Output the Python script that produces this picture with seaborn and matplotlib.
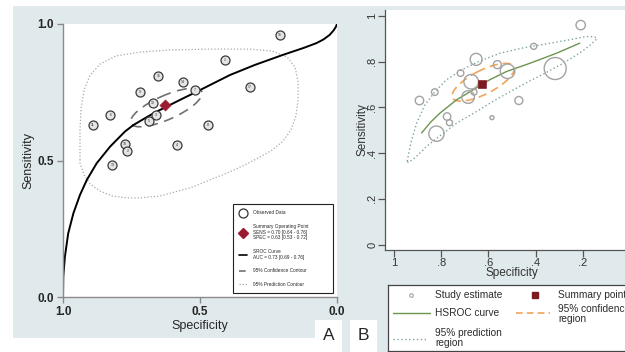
import matplotlib

matplotlib.use("Agg")
import matplotlib.pyplot as plt
import pandas as pd
import seaborn as sns
from matplotlib.lines import Line2D
from matplotlib.patches import Ellipse, Rectangle

# study level estimates
study_ids = [15, 1, 17, 16, 14, 7, 9, 12, 6, 3, 5, 11, 8, 10, 4, 2, 13]
specificity = [0.209, 0.408, 0.317, 0.652, 0.562, 0.519, 0.718, 0.673, 0.827,
               0.661, 0.686, 0.892, 0.471, 0.775, 0.585, 0.765, 0.820]
sensitivity = [0.960, 0.867, 0.770, 0.810, 0.787, 0.758, 0.750, 0.712, 0.667,
               0.667, 0.645, 0.630, 0.630, 0.560, 0.555, 0.533, 0.485]
study_weight = [22, 9, 121, 36, 16, 53, 11, 53, 11, 9, 40, 18, 16, 14, 4, 9, 59]

summary_spec = 0.629
summary_sens = 0.703

# panel A: SROC curve and contours
sroc_spec = [1.000, 0.999, 0.993, 0.981, 0.962, 0.938, 0.913, 0.877, 0.828, 0.774,
             0.743, 0.670, 0.573, 0.500, 0.391, 0.300, 0.197, 0.120, 0.075, 0.050,
             0.027, 0.012, 0.004, 0.000]
sroc_sens = [0.000, 0.074, 0.148, 0.233, 0.307, 0.374, 0.429, 0.490, 0.551, 0.606,
             0.630, 0.673, 0.722, 0.758, 0.813, 0.850, 0.887, 0.913, 0.930, 0.943,
             0.960, 0.977, 0.990, 1.000]
pred_a_spec = [0.938, 0.938, 0.934, 0.923, 0.901, 0.865, 0.807, 0.719, 0.609, 0.464,
               0.318, 0.237, 0.182, 0.153, 0.142, 0.142, 0.150, 0.168, 0.197, 0.237,
               0.281, 0.336, 0.401, 0.464, 0.526, 0.591, 0.646, 0.719, 0.766, 0.821,
               0.865, 0.901, 0.923, 0.938, 0.938]
pred_a_sens = [0.502, 0.612, 0.692, 0.758, 0.813, 0.853, 0.883, 0.897, 0.905, 0.908,
               0.908, 0.901, 0.879, 0.842, 0.788, 0.722, 0.663, 0.612, 0.571, 0.538,
               0.513, 0.484, 0.454, 0.429, 0.403, 0.385, 0.370, 0.363, 0.363, 0.370,
               0.388, 0.414, 0.447, 0.491, 0.502]
conf_a = dict(center=(0.623, 0.694), width=0.284, height=0.088, angle=155.9)

# panel B: HSROC curve and regions
hsroc_spec = [0.883, 0.845, 0.805, 0.735, 0.664, 0.594, 0.523, 0.424, 0.311, 0.213]
hsroc_sens = [0.488, 0.535, 0.575, 0.633, 0.677, 0.721, 0.757, 0.793, 0.837, 0.881]
pred_b_spec = [0.944, 0.929, 0.904, 0.869, 0.826, 0.777, 0.713, 0.643, 0.551, 0.453,
               0.354, 0.255, 0.185, 0.150, 0.140,
               0.163, 0.199, 0.241, 0.283, 0.326, 0.368, 0.424, 0.481, 0.565, 0.650,
               0.735, 0.805, 0.862, 0.911, 0.939, 0.944]
pred_b_sens = [0.364, 0.444, 0.531, 0.611, 0.669, 0.721, 0.764, 0.800, 0.837, 0.860,
               0.878, 0.896, 0.910, 0.909, 0.900,
               0.878, 0.848, 0.820, 0.793, 0.769, 0.745, 0.716, 0.684, 0.636, 0.582,
               0.531, 0.476, 0.429, 0.379, 0.359, 0.364]
conf_b = dict(center=(0.622, 0.710), width=0.294, height=0.103, angle=152)

studies = pd.DataFrame({"id": study_ids, "spec": specificity, "sens": sensitivity,
                        "weight": study_weight})

sns.set_style("ticks")
plt.rcParams["font.family"] = ["Liberation Sans", "DejaVu Sans"]

W, H = 625, 352
fig = plt.figure(figsize=(W / 100, H / 100), dpi=100)


def px_axes(x0, y0, x1, y1):
    return fig.add_axes([x0 / W, 1 - y1 / H, (x1 - x0) / W, (y1 - y0) / H])


def px_rect(x0, y0, x1, y1, color, z):
    fig.patches.append(Rectangle((x0 / W, 1 - y1 / H), (x1 - x0) / W, (y1 - y0) / H,
                                 transform=fig.transFigure, facecolor=color,
                                 edgecolor="none", zorder=z))


bg = "#e0eaec"
px_rect(13, 6, 347, 338, bg, -2)
px_rect(342, 6, 625, 352, bg, -2)
px_rect(315, 320, 342, 352, "white", -1)
px_rect(350, 320, 377, 352, "white", -1)
fig.text(328.5 / W, 1 - 336 / H, "A", fontsize=12.5, ha="center", va="center")
fig.text(363.5 / W, 1 - 336 / H, "B", fontsize=12.5, ha="center", va="center")

# ---------------- panel A ----------------
axA = px_axes(63, 24, 337, 297)
axA.set_facecolor("white")
sns.lineplot(x=pred_a_spec, y=pred_a_sens, sort=False, estimator=None, color="#a8a8a8",
             lw=0.9, linestyle=(0, (1, 1.6)), ax=axA)
axA.add_patch(Ellipse(conf_a["center"], conf_a["width"], conf_a["height"],
                      angle=conf_a["angle"], fill=False, ec="#707070", lw=1.2,
                      ls=(0, (6, 4))))
sns.lineplot(x=sroc_spec, y=sroc_sens, sort=False, estimator=None, color="black",
             lw=1.4, ax=axA)
sns.scatterplot(data=studies, x="spec", y="sens", s=42, facecolor="#e4e4e4",
                edgecolor="#3a3a3a", linewidth=0.9, zorder=3, ax=axA)
for _, r in studies.iterrows():
    axA.text(r["spec"], r["sens"], str(int(r["id"])), fontsize=2.6, ha="center",
             va="center", color="#333333", zorder=4)
sns.scatterplot(x=[summary_spec], y=[summary_sens], marker="D", s=32, color="#9b1b30",
                edgecolor="#9b1b30", zorder=5, ax=axA)

axA.set_xlim(1, 0)
axA.set_ylim(0, 1)
axA.set_xticks([1, 0.5, 0])
axA.set_xticklabels(["1.0", "0.5", "0.0"], fontweight="bold", fontsize=8.5)
axA.set_yticks([0, 0.5, 1])
axA.set_yticklabels(["0.0", "0.5", "1.0"], fontweight="bold", fontsize=8.5)
axA.tick_params(direction="out", length=4.3, width=1, color="#8a8a8a", pad=2.5)
for side in ["top", "right"]:
    axA.spines[side].set_visible(False)
for side in ["left", "bottom"]:
    axA.spines[side].set_color("#8a8a8a")
    axA.spines[side].set_linewidth(1)
axA.set_xlabel("Specificity", fontsize=9, labelpad=1)
axA.set_ylabel("Sensitivity", fontsize=9, labelpad=2)

handles = [
    Line2D([], [], marker="o", ls="none", mfc="white", mec="#333333", ms=6.5, mew=0.9),
    Line2D([], [], marker="D", ls="none", color="#9b1b30", ms=5),
    Line2D([], [], color="black", lw=1.2),
    Line2D([], [], color="#707070", lw=1.2, ls=(0, (4, 2))),
    Line2D([], [], color="#a8a8a8", lw=0.9, ls=(0, (1, 1.5))),
]
labels = [
    "Observed Data",
    "Summary Operating Point\nSENS = 0.70 [0.64 - 0.76]\nSPEC = 0.63 [0.53 - 0.72]",
    "SROC Curve\nAUC = 0.73 [0.69 - 0.76]",
    "95% Confidence Contour",
    "95% Prediction Contour",
]
legA = axA.legend(handles, labels, loc="lower left", bbox_to_anchor=(0.62, 0.015, 0.365, 0.337),
                  mode="expand", fontsize=3.4, frameon=True, fancybox=False,
                  edgecolor="#222222", framealpha=1, handlelength=1.6, labelspacing=1.8,
                  borderpad=1.3, handletextpad=1.3, borderaxespad=0)
legA.get_frame().set_linewidth(0.8)

# ---------------- panel B ----------------
axB = px_axes(385, 10, 639, 250)
axB.set_facecolor("white")
sns.lineplot(x=pred_b_spec, y=pred_b_sens, sort=False, estimator=None, color="#7fa3a3",
             lw=1.0, linestyle=(0, (1, 1.8)), ax=axB)
axB.add_patch(Ellipse(conf_b["center"], conf_b["width"], conf_b["height"],
                      angle=conf_b["angle"], fill=False, ec="#f2a45a", lw=1.2,
                      ls=(0, (5, 3))))
sns.lineplot(x=hsroc_spec, y=hsroc_sens, sort=False, estimator=None, color="#6c9450",
             lw=1.0, ax=axB)
sns.scatterplot(data=studies, x="spec", y="sens", s=studies["weight"] * 2.07,
                facecolor="none", edgecolor="#a3a3a3", linewidth=1.0, zorder=3, ax=axB)
sns.scatterplot(x=[summary_spec], y=[summary_sens], marker="s", s=30, color="#7b1a1f",
                edgecolor="#7b1a1f", zorder=5, ax=axB)

axB.set_xlim(1.038, -0.038)
axB.set_ylim(-0.024, 1.026)
axB.set_xticks([1, 0.8, 0.6, 0.4, 0.2])
axB.set_xticklabels(["1", ".8", ".6", ".4", ".2"], fontsize=8, color="#333333")
axB.set_yticks([0, 0.2, 0.4, 0.6, 0.8, 1])
axB.set_yticklabels(["0", ".2", ".4", ".6", ".8", "1"], fontsize=8, color="#333333",
                    rotation=90, va="center")
axB.tick_params(direction="out", length=5, width=0.9, color="#555555")
axB.tick_params(axis="x", pad=1)
axB.tick_params(axis="y", pad=0.5)
for side in ["top", "right"]:
    axB.spines[side].set_visible(False)
for side in ["left", "bottom"]:
    axB.spines[side].set_color("#555555")
    axB.spines[side].set_linewidth(0.9)
axB.set_xlabel("Specificity", fontsize=8.5, color="#333333", labelpad=-1)
axB.set_ylabel("Sensitivity", fontsize=8.5, color="#333333", labelpad=-1)

# legend box for panel B, laid out in local pixel units, cropped on the right
lg = px_axes(388, 285, 700, 351)
lg.set_xlim(0, 312)
lg.set_ylim(66, 0)
lg.set_xticks([])
lg.set_yticks([])
lg.set_facecolor("white")
for s in lg.spines.values():
    s.set_color("#444444")
    s.set_linewidth(0.9)
txt = dict(fontsize=7.3, color="#2b2b2b", va="center", ha="left", linespacing=1.0)
lg.plot([23], [9.5], marker="o", ms=2.6, mfc="none", mec="#a3a3a3", mew=0.8, ls="none")
lg.text(47, 9.5, "Study estimate", **txt)
lg.plot([146.5], [9.5], marker="s", ms=5, color="#7b1a1f", ls="none")
lg.text(170, 9.5, "Summary point", **txt)
lg.plot([5, 42], [27.5, 27.5], color="#6c9450", lw=1.0)
lg.text(47, 27.5, "HSROC curve", **txt)
lg.plot([128, 162], [27.5, 27.5], color="#f2a45a", lw=1.2, ls=(0, (4, 2.5)))
lg.text(170, 29, "95% confidence\nregion", **txt)
lg.plot([5, 40], [53.5, 53.5], color="#7fa3a3", lw=1.0, ls=(0, (1, 1.8)))
lg.text(47, 53, "95% prediction\nregion", **txt)

fig.savefig("out.png", dpi=100)
